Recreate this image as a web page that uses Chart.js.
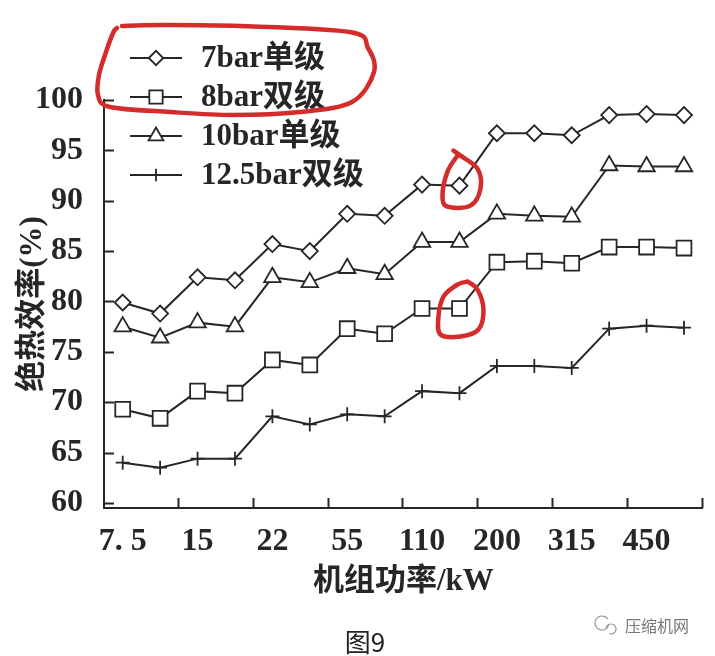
<!DOCTYPE html>
<html><head><meta charset="utf-8">
<script src="https://cdn.jsdelivr.net/npm/chart.js@4.4.0/dist/chart.umd.min.js"></script>
<style>html,body{margin:0;padding:0;background:#fff;} canvas{display:block;}</style>
</head><body>
<canvas id="c" width="715" height="656"></canvas>
<script>
// ---- data ----
const tickLabels = ['7. 5','15','22','55','110','200','315','450'];
const seriesNames = ['7bar单级','8bar双级','10bar单级','12.5bar双级'];
const bar7Single  = [79.9,78.8,82.4,82.1,85.7,85.0,88.7,88.5,91.6,91.5,96.7,96.7,96.5,98.5,98.6,98.5];
const bar8Double  = [69.3,68.4,71.1,70.9,74.2,73.7,77.3,76.8,79.3,79.3,83.9,84.0,83.8,85.4,85.4,85.3];
const bar10Single = [77.5,76.4,77.9,77.5,82.4,81.9,83.3,82.7,85.9,85.9,88.7,88.5,88.4,93.5,93.4,93.4];
const bar12Double = [64.0,63.5,64.4,64.4,68.6,67.8,68.8,68.6,71.1,70.9,73.6,73.6,73.4,77.3,77.6,77.4];
const yTicks = [60,65,70,75,80,85,90,95,100];
const xTitle = '机组功率/kW';
const yTitle = '绝热效率(%)';
const caption = '图9';
const watermark = '压缩机网';

// two measured positions per labelled power step
const categories = tickLabels.flatMap(l => [l, '']);

const INK = '#262626';
const RED = '#d42b2b';
const FONT = "'Liberation Serif','Noto Sans CJK SC',serif";

const styles = [
  {pointStyle:'rectRot', pointRadius:8},
  {pointStyle:'rect', pointRadius:10.5},
  {pointStyle:'triangle', pointRadius:9.5},
  {pointStyle:'cross', pointRadius:7}
];
const seriesData = [bar7Single, bar8Double, bar10Single, bar12Double];

const datasets = seriesData.map((d, i) => ({
  label: seriesNames[i],
  data: d,
  borderColor: INK,
  borderWidth: 2,
  pointStyle: styles[i].pointStyle,
  pointRadius: styles[i].pointRadius,
  pointBorderWidth: 1.8,
  pointBackgroundColor: '#fff',
  pointBorderColor: INK,
  tension: 0,
  fill: false
}));

function smoothLoop(ctx, pts) {
  ctx.beginPath();
  const n = pts.length;
  ctx.moveTo(pts[0][0], pts[0][1]);
  for (let i = 0; i < n - 1; i++) {
    const p0 = pts[Math.max(i - 1, 0)], p1 = pts[i], p2 = pts[i + 1], p3 = pts[Math.min(i + 2, n - 1)];
    const c1x = p1[0] + (p2[0] - p0[0]) / 6, c1y = p1[1] + (p2[1] - p0[1]) / 6;
    const c2x = p2[0] - (p3[0] - p1[0]) / 6, c2y = p2[1] - (p3[1] - p1[1]) / 6;
    ctx.bezierCurveTo(c1x, c1y, c2x, c2y, p2[0], p2[1]);
  }
  ctx.stroke();
}

const decor = {
  id: 'decor',
  afterDraw(chart) {
    const {ctx, scales: {x, y}} = chart;
    ctx.save();
    // inward tick marks
    ctx.strokeStyle = INK; ctx.lineWidth = 2;
    yTicks.forEach(v => {
      const py = Math.round(y.getPixelForValue(v)) + 0.5;
      ctx.beginPath(); ctx.moveTo(x.left, py); ctx.lineTo(x.left + 10, py); ctx.stroke();
    });
    for (let k = 1; k <= tickLabels.length; k++) {
      const px = Math.round(x.getPixelForValue(2 * k - 0.5)) - 0.5;
      ctx.beginPath(); ctx.moveTo(px, y.bottom); ctx.lineTo(px, y.bottom - 10); ctx.stroke();
    }
    // legend
    chart.data.datasets.forEach((ds, i) => {
      const ry = 58 + i * 39;
      ctx.strokeStyle = INK; ctx.lineWidth = 2;
      ctx.beginPath(); ctx.moveTo(130, ry); ctx.lineTo(182, ry); ctx.stroke();
      ctx.fillStyle = '#fff'; ctx.strokeStyle = INK; ctx.lineWidth = 1.8;
      Chart.helpers.drawPoint(ctx, {pointStyle: ds.pointStyle, radius: ds.pointRadius * 0.9, borderWidth: 1.8, rotation: 0}, 156, ry);
      ctx.fillStyle = INK;
      ctx.font = "bold 31px " + FONT;
      ctx.textBaseline = 'middle'; ctx.textAlign = 'left';
      ctx.fillText(ds.label, 201, ry + 1);
    });
    // red hand-drawn marks
    ctx.strokeStyle = RED; ctx.lineWidth = 4.5; ctx.lineCap = 'round'; ctx.lineJoin = 'round';
    smoothLoop(ctx, [[117,28],[113,33],[105,55],[99,75],[98,95],[110,107],[170,112],[233,115],[300,112],[352,102],[374,72],[368,48],[350,32],[240,26],[160,25],[122,26]]);
    const m0 = chart.getDatasetMeta(0).data[9];
    const m1 = chart.getDatasetMeta(1).data[9];
    const loop2 = [[-6,-35],[1,-30],[18,-17],[21,3],[11,20],[-12,21],[-17,10],[-12,-14],[-2,-30]];
    smoothLoop(ctx, loop2.map(p => [m0.x + p[0], m0.y + p[1]]));
    const loop3 = [[8,-27],[18,-19],[24,1],[19,21],[1,28],[-19,26],[-21,8],[-16,-12],[-2,-24],[8,-27]];
    smoothLoop(ctx, loop3.map(p => [m1.x + p[0], m1.y + p[1]]));
    // caption
    ctx.fillStyle = '#222';
    ctx.font = "26px 'Noto Sans CJK SC','Noto Sans',sans-serif";
    ctx.textAlign = 'center'; ctx.textBaseline = 'middle';
    ctx.fillText(caption, 365, 642);
    // watermark
    ctx.fillStyle = '#777';
    ctx.font = "16px 'Noto Sans CJK SC',sans-serif";
    ctx.textAlign = 'left';
    ctx.fillText(watermark, 625, 626);
    ctx.strokeStyle = '#999'; ctx.lineWidth = 1.2;
    ctx.beginPath(); ctx.arc(602, 623, 7, 0.3, Math.PI * 1.8); ctx.stroke();
    ctx.beginPath(); ctx.arc(611, 629, 5, Math.PI * 1.1, Math.PI * 2.6); ctx.stroke();
    ctx.restore();
  }
};

new Chart(document.getElementById('c'), {
  type: 'line',
  data: {labels: categories, datasets},
  options: {
    responsive: false,
    animation: false,
    layout: {padding: {top: 100, right: 10, left: 0, bottom: 48}},
    plugins: {legend: {display: false}, tooltip: {enabled: false}},
    scales: {
      x: {
        type: 'category',
        offset: true,
        grid: {display: false},
        border: {display: true, color: INK, width: 2},
        ticks: {autoSkip: false, maxRotation: 0, minRotation: 0, padding: 7, color: INK, font: {family: FONT, size: 32, weight: 'bold'}},
        title: {display: true, text: xTitle, color: INK, font: {family: FONT, size: 31, weight: 'bold', lineHeight: 1.2}, padding: {top: 0, bottom: 7}},
        afterFit: s => { s.height = 100; }
      },
      y: {
        min: 59.5, max: 100,
        grid: {display: false},
        border: {display: true, color: INK, width: 2},
        afterBuildTicks: s => { s.ticks = yTicks.map(v => ({value: v})); },
        ticks: {padding: 13, color: INK, font: {family: FONT, size: 32, weight: 'bold'}},
        title: {display: true, text: yTitle, color: INK, font: {family: FONT, size: 31, weight: 'bold', lineHeight: 1.2}, padding: {top: 14, bottom: 0}},
        afterFit: s => { s.width = 104; }
      }
    }
  },
  plugins: [decor]
});
</script>
</body></html>
